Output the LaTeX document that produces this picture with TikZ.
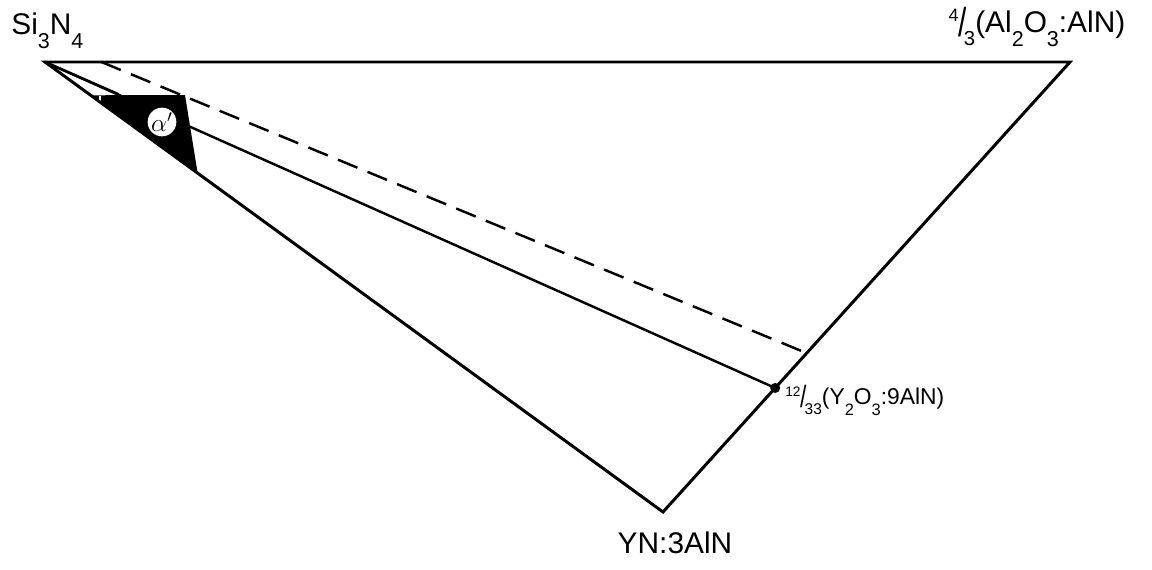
\documentclass[tikz,border=0pt]{standalone}
\usepackage{fontspec}
\setmainfont{Liberation Sans}
\usetikzlibrary{calc}
\newcommand\lo[1]{\raisebox{-.45em}{\scalebox{.72}{#1}}}
\newcommand\fr[2]{\raisebox{.38em}{\scalebox{.6}{#1}}\kern-.02em\raisebox{-.12em}{\scalebox{1}[1.35]{/}}\kern-.08em\raisebox{-.42em}{\scalebox{.68}{#2}}}

\begin{document}
\begin{tikzpicture}[x=0.02cm,y=-0.02cm,
  edge/.style={line width=1.7pt},
  tie/.style={line width=1.4pt},
  lab/.style={inner sep=0pt,font=\fontsize{17}{20}\selectfont},
  sublab/.style={inner sep=0pt,font=\fontsize{13}{15}\selectfont}]
\useasboundingbox (0,0) rectangle (1152,570);
\coordinate (si) at (45,62);
\coordinate (al) at (1070,62);
\coordinate (yn) at (663,512);
\coordinate (yo) at ($(al)!.7244!(yn)$);
\coordinate (dashend) at ($(al)!.647!(yn)$);
\coordinate (dashstart) at ($(si)!.055!(al)$);
\coordinate (wedge) at (118,94);
\coordinate (phaseA) at ($(si)!.074!(yn)$);
\coordinate (phaseB) at (185,95);
\coordinate (phaseC) at ($(si)!.247!(yn)$);
\node[lab,anchor=base west](silab) at (11,35){Si\lo{3}N\lo{4}};
\node[lab,anchor=base](allab) at (1037,33){\fr{4}{3}(Al\lo{2}O\lo{3}:AlN)};
\node[lab,anchor=base](ynlab) at (675,553){YN:3AlN};
\node[sublab,anchor=base west](yolab) at (785,405){\fr{12}{33}(Y\lo{2}O\lo{3}:9AlN)};
\draw[tie](si)--(wedge)--(118,95);
\draw[tie](si)--(yo);
\draw[tie,dash pattern=on 0.42cm off 0.22cm](dashstart)--(dashend);
\fill(phaseA)--(phaseB)--(phaseC)--cycle;
\draw[white,line width=1pt](100,96)--(100,101);
\node[circle,fill=white,inner sep=0pt,minimum size=0.5cm,font=\Large](alpha) at (162,122){$\alpha'$};
\draw[edge](si)--(al)--(yn)--cycle;
\fill(yo) circle (0.1cm);
\end{tikzpicture}
\end{document}
